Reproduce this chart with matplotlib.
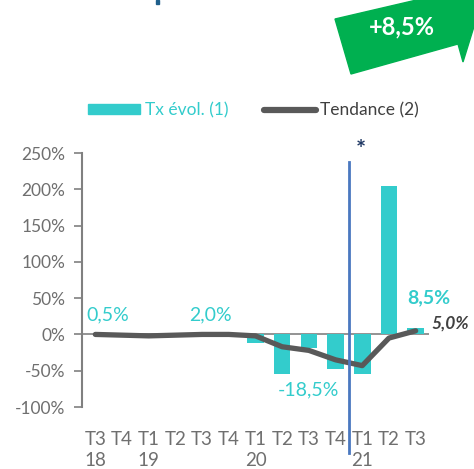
import matplotlib
matplotlib.use("Agg")
import matplotlib.pyplot as plt
from matplotlib.patches import Polygon, Rectangle
from matplotlib.lines import Line2D

quarters = ["T3", "T4", "T1", "T2", "T3", "T4", "T1", "T2", "T3", "T4", "T1", "T2", "T3"]
years = ["18", "", "19", "", "", "", "20", "", "", "", "21", "", ""]
tx_evol = [0.5, 1.0, -1.0, 0.5, 2.0, 0.5, -12.0, -55.0, -18.5, -48.0, -55.0, 204.0, 8.5]
tendance = [0.0, -1.0, -2.0, -1.0, 0.0, 0.0, -2.0, -17.0, -22.0, -35.0, -43.0, -5.0, 5.0]
yticks = [-100, -50, 0, 50, 100, 150, 200, 250]

CYAN = "#33CCCC"
LINE = "#595959"
GRAY_TXT = "#6f6f6f"
AXIS = "#808080"

plt.rcParams['font.family'] = ['Lato', 'DejaVu Sans']

W, H = 474, 469
fig = plt.figure(figsize=(W / 100, H / 100), dpi=100)
ax = fig.add_axes([82 / W, 1 - 407 / H, 347 / W, 254 / H])

x = list(range(len(quarters)))
ax.bar(x, tx_evol, width=0.62, color=CYAN, zorder=2)
ax.axhline(0, color=AXIS, lw=1.2, zorder=1)
ax.plot(x, tendance, color=LINE, lw=3.8, solid_capstyle='round', solid_joinstyle='round', zorder=3)

ax.set_xlim(-0.5, len(quarters) - 0.5)
ax.set_ylim(-100, 250)
ax.set_yticks(yticks)
ax.set_yticklabels([f"{v}%" for v in yticks], color=GRAY_TXT, fontsize=12.5)
ax.set_xticks(x)
ax.set_xticklabels([f"{q}\n{y if y else ' '}" for q, y in zip(quarters, years)],
                   color=GRAY_TXT, fontsize=13.5, linespacing=1.3)
ax.tick_params(axis='x', length=0, pad=17)
ax.tick_params(axis='y', length=6, width=1.2, color=AXIS, pad=6)
for s in ["top", "right", "bottom"]:
    ax.spines[s].set_visible(False)
ax.spines["left"].set_color(AXIS)
ax.spines["left"].set_linewidth(1.5)

# vertical marker line
ax.plot([9.5, 9.5], [237, -164], color="#4a78c0", lw=2, clip_on=False, zorder=4)
ax.text(9.95, 254, "*", color="#1f3864", fontsize=17, fontweight='bold', ha='center', va='center')

# data labels
ax.text(0.45, 27, "0,5%", color=CYAN, fontsize=14, ha='center', va='center')
ax.text(4.3, 27, "2,0%", color=CYAN, fontsize=14, ha='center', va='center')
ax.text(8.0, -76, "-18,5%", color=CYAN, fontsize=14, ha='center', va='center')
ax.text(12.5, 50, "8,5%", color=CYAN, fontsize=14, fontweight='bold', ha='center', va='center')
ax.text(13.3, 15, "5,0%", color="#404040", fontsize=12.5, fontweight='bold', style='italic',
        ha='center', va='center')

# legend (manual)
fig.patches.append(Rectangle((88 / W, 1 - 114 / H), 52 / W, 10 / H, transform=fig.transFigure,
                             color=CYAN))
fig.text(145 / W, 1 - 110 / H, "Tx évol. (1)", color=CYAN, fontsize=12.5, va='center', ha='left')
fig.lines.append(Line2D([264 / W, 316 / W], [1 - 110 / H, 1 - 110 / H], transform=fig.transFigure,
                        color=LINE, lw=4.5, solid_capstyle='round'))
fig.text(320 / W, 1 - 110 / H, "Tendance (2)", color="#404040", fontsize=12.5, va='center', ha='left')

# green arrow banner
pts = [(335, 19), (468, -12), (476, -6), (476, 20), (463, 62), (458, 44), (351, 74)]
fig.patches.append(Polygon([(px / W, 1 - py / H) for px, py in pts], closed=True,
                           transform=fig.transFigure, color="#00B050"))
fig.text(402 / W, 1 - 27 / H, "+8,5%", color="white", fontsize=17, fontweight='bold',
         ha='center', va='center')

# cut-off title fragment
fig.patches.append(Rectangle((156 / W, 1 - 4 / H), 3 / W, 4 / H, transform=fig.transFigure,
                             color="#1f5f8b"))

fig.savefig("out.png", dpi=100)
